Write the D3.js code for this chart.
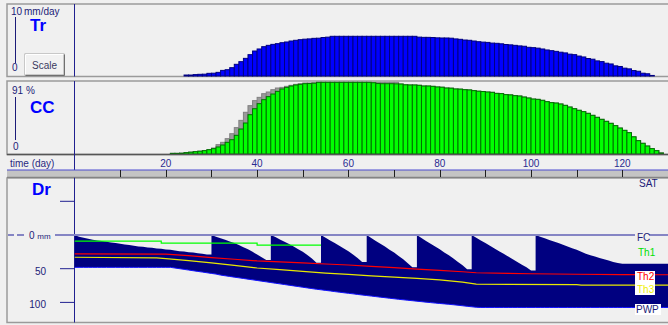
<!DOCTYPE html>
<html>
<head>
<meta charset="utf-8">
<script src="https://cdn.jsdelivr.net/npm/d3@7"></script>
<style>
  body { margin: 0; background: #f0f0f0; }
  svg { display: block; }
  text { font-family: "Liberation Sans", Arial, sans-serif; }
</style>
</head>
<body>
<svg id="chart" width="668" height="325"></svg>
<script>
// ---- data ----
const dayTicks = [20, 40, 60, 80, 100, 120];

// transpiration, mm/day, first bar on day 24
const trStart = 24;
const trValues = [0.14, 0.14, 0.2, 0.24, 0.26, 0.38, 0.4, 0.52, 0.8, 0.9,
  1.19, 1.67, 2.05, 2.52, 3.05, 3.57, 3.86, 4.19, 4.38, 4.52,
  4.62, 4.76, 4.86, 5.0, 5.1, 5.19, 5.26, 5.3, 5.38, 5.4,
  5.5, 5.55, 5.67, 5.67, 5.67, 5.67, 5.67, 5.67, 5.67, 5.67,
  5.67, 5.67, 5.67, 5.67, 5.67, 5.67, 5.67, 5.67, 5.67, 5.67,
  5.67, 5.55, 5.52, 5.52, 5.5, 5.45, 5.43, 5.43, 5.4, 5.3,
  5.24, 5.14, 5.1, 5.0, 4.9, 4.84, 4.8, 4.7, 4.67, 4.6,
  4.5, 4.45, 4.38, 4.3, 4.25, 4.1, 4.05, 3.98, 3.86, 3.72,
  3.62, 3.52, 3.4, 3.3, 3.12, 3.05, 2.85, 2.72, 2.5, 2.4,
  2.16, 2.06, 1.83, 1.72, 1.45, 1.36, 1.12, 1.02, 0.78, 0.68,
  0.4, 0.32, 0.08];

// canopy cover %, first bar on day 21
const ccStart = 21;
const ccValues = [0.8, 0.8, 1.0, 1.7, 2.3, 2.9, 3.5, 4.2, 5.4, 6.7,
  8.8, 11.3, 14.6, 17.9, 23.4, 31.3, 38.8, 49.2, 56.7, 63,
  68, 71.8, 75.1, 78.4, 81.4, 83.4, 85.1, 86.4, 87.2, 88,
  88.2, 88.6, 89.7, 89.7, 89.7, 89.7, 89.7, 89.7, 89.7, 89.7,
  89.7, 89.7, 89.7, 89.7, 89.2, 88.2, 88, 88, 88, 87.8,
  87.6, 86.6, 86.4, 86.4, 86, 85.1, 85.1, 84.7, 83.9, 83.6,
  82.6, 82.4, 81.4, 81.2, 80.5, 80.2, 79.3, 78.6, 78.2, 77.6,
  77.2, 75.9, 75.6, 74.3, 74, 73, 72.6, 71.3, 70.1, 68.8,
  68.4, 67.2, 65.5, 64.3, 63.8, 62.6, 60.9, 58.8, 56.7, 54.7,
  53, 50.9, 48.4, 45.9, 43.4, 40.9, 38.4, 35.5, 32.5, 29.6,
  26.7, 21.5, 16.7, 13.4, 10, 6.7, 4.2, 1.3];
// potential canopy cover (grey bars behind), same days
const ccPotValues = [0.8, 0.8, 1.0, 1.7, 2.3, 2.9, 3.5, 4.2, 5.4, 7.5,
  11.7, 14.6, 19.2, 25.4, 33, 42.1, 52.2, 60.5, 66.8, 70.9,
  75.5, 77.6, 80.5, 82.6, 83.4, 84.7, 86, 87.2, 88, 88.9,
  88.9, 89.2, 89.7, 89.7, 89.7, 89.7, 89.7, 89.7, 89.7, 89.7,
  89.7, 89.7, 89.7, 89.7, 89.7, 89.7, 89.7, 89.7, 89.7, 89.7,
  87.6, 86.6, 86.4, 86.4, 86, 85.1, 85.1, 84.7, 83.9, 83.6,
  82.6, 82.4, 81.4, 81.2, 80.5, 80.2, 79.3, 78.6, 78.2, 77.6,
  77.2, 75.9, 75.6, 74.3, 74, 73, 72.6, 71.3, 70.1, 68.8,
  68.4, 67.2, 65.5, 64.3, 63.8, 62.6, 60.9, 58.8, 56.7, 54.7,
  53, 50.9, 48.4, 45.9, 43.4, 40.9, 38.4, 35.5, 32.5, 29.6,
  26.7, 21.5, 16.7, 13.4, 10, 6.7, 4.2, 1.3];

// root zone depletion, mm below FC, days 0..130
const drValues = [0, 2.5, 4, 5.5, 7, 8, 9, 10, 11, 12,
  13, 14, 15, 16, 17, 17.5, 18.5, 19, 20, 20.5,
  21.5, 22, 23, 24, 24.5, 25.5, 26, 27, 28, 29,
  0, 2.5, 5, 7, 9.5, 12, 15, 18, 21, 25, 29, 33, 37,
  0, 3, 6.5, 10, 13.5, 17, 21, 25, 29.5, 35, 41,
  0, 4, 8, 12, 16, 20, 24, 29, 34, 40,
  0, 4.5, 9, 13, 17, 22, 26, 31, 36, 42, 48,
  0, 4.5, 9, 13, 17, 21, 26, 30, 35, 40, 45, 51,
  0, 4, 8, 12, 16, 20, 24, 28, 32, 36, 40, 44, 48, 52.5,
  0, 2.5, 5, 7.5, 9.5, 12, 14.5, 17, 19.5, 22, 25, 28, 30, 32, 34,
  36, 38, 40, 41.5, 42.5, 42.5, 42.5, 42.5, 42.5, 42.5, 42.5, 42.5, 42.5, 42.5, 42.5];
// total available water (depth of PWP below FC), days 0..130
const tawValues = [48, 48, 48, 48, 48, 48, 48, 48, 48, 48, 48,
  48, 48, 48, 48, 48, 48, 48, 48, 48, 48, 48,
  49, 50, 51, 52, 53, 54, 55, 56, 57, 58,
  59.5, 60.5, 61.5, 62.5, 63.5, 64.5, 65.5, 66.5, 67.5, 68.5, 69.5,
  70.5, 71.5, 72.5, 73.5, 74.5, 75.5, 76.5, 77.5, 78.5, 79.5, 80.5,
  81.3, 82.2, 83, 84, 84.8, 85.7, 86.5, 87.3, 88.2, 89,
  89.8, 90.6, 91.4, 92.2, 93, 93.8, 94.6, 95.4, 96.1, 96.8,
  97.5, 98.2, 98.9, 99.6, 100.3, 101, 101.6, 102.2, 102.8, 103.5,
  104.2, 105, 105.8, 106.5, 107.2,
  107.5, 107.5, 107.5, 107.5, 107.5, 107.5, 107.5, 107.5, 107.5, 107.5,
  107.5, 107.5, 107.5, 107.5, 107.5, 107.5, 107.5, 107.5, 107.5, 107.5,
  107.5, 107.5, 107.5, 107.5, 107.5, 107.5, 107.5, 107.5, 107.5, 107.5,
  107.5, 107.5, 107.5, 107.5, 107.5, 107.5, 107.5, 107.5, 107.5, 107.5,
  107.5, 107.5];

// thresholds (day, mm)
const th1Days = [0, 19, 40, 54];
const th1Mm = [9, 12, 15, 15];
const th2Days = [0, 20, 25, 30, 35, 40, 45, 50, 55, 60, 65, 70, 75, 80, 85, 88, 95, 100, 110, 120, 130];
const th2Mm = [28, 28.5, 30.5, 33.5, 36, 38.5, 40, 41.5, 43, 44.5, 46.5, 48.5, 50.5, 52.5, 54.5, 56, 57, 57.5, 58.2, 58.8, 59];
const th3Days = [0, 18, 20, 25, 30, 35, 40, 45, 50, 55, 60, 65, 70, 75, 80, 85, 88, 110, 111, 130];
const th3Mm = [33, 34, 35, 38, 41.5, 45, 49, 51.5, 54, 56.5, 58.5, 60.5, 62.5, 64.5, 66.5, 70, 73, 73.5, 74.5, 74.5];

// ---- drawing ----
const svg = d3.select('#chart');
const navy = '#1c1c78';

svg.append('rect').attr('width', 668).attr('height', 325).attr('fill', '#f0f0f0');

const x = d3.scaleLinear().domain([0, 130]).range([74.5, 668]);
const yTr = d3.scaleLinear().domain([0, 10]).range([76, 6]);
const yCC = d3.scaleLinear().domain([0, 91]).range([154, 81.3]);
const yDr = d3.scaleLinear().domain([-50, 100]).range([201.3, 302.4]);
const dayW = x(1) - x(0);

// panel frames
function frame(y0, y1) {
  svg.append('rect')
    .attr('x', 7).attr('y', y0).attr('width', 700).attr('height', y1 - y0)
    .attr('fill', 'none').attr('stroke', '#9a9a9a').attr('stroke-width', 1.5);
}
frame(4, 76.5);
frame(81, 154.5);
frame(178, 322.5);

// bars
function drawBars(startDay, values, y, fill, stroke) {
  svg.append('g').selectAll('rect')
    .data(values)
    .join('rect')
      .attr('x', (v, i) => x(startDay + i))
      .attr('width', dayW)
      .attr('y', v => y(v))
      .attr('height', v => y(0) - y(v))
      .attr('fill', fill)
      .attr('stroke', stroke)
      .attr('stroke-width', 1);
}
drawBars(trStart, trValues, yTr, '#0000ff', '#000080');
drawBars(ccStart, ccPotValues, yCC, '#9a9a9a', '#808080');
drawBars(ccStart, ccValues, yCC, '#00ff00', '#007000');

// CC bottom line
svg.append('line').attr('x1', 7).attr('x2', 668).attr('y1', 154.5).attr('y2', 154.5)
  .attr('stroke', '#555').attr('stroke-width', 1.5);

// left axis lines of the panels
[[4, 76.5], [81, 177], [177, 322.5]].forEach(([a, b]) => {
  svg.append('line').attr('x1', 74.5).attr('x2', 74.5).attr('y1', a).attr('y2', b)
    .attr('stroke', '#202090').attr('stroke-width', 1);
});

// Tr legend area
svg.append('line').attr('x1', 15.5).attr('x2', 15.5).attr('y1', 17).attr('y2', 63).attr('stroke', navy);
svg.append('text').attr('x', 11).attr('y', 15).attr('font-size', 10).attr('fill', navy).text('10');
svg.append('text').attr('x', 24).attr('y', 15).attr('font-size', 10).attr('fill', navy).text('mm/day');
svg.append('text').attr('x', 30).attr('y', 31).attr('font-size', 17).attr('font-weight', 'bold').attr('fill', '#0000ff').text('Tr');
svg.append('text').attr('x', 12).attr('y', 71).attr('font-size', 10).attr('fill', navy).text('0');

// Scale button
const btn = svg.append('g');
btn.append('rect').attr('x', 25).attr('y', 54).attr('width', 39).attr('height', 21)
  .attr('fill', '#f2f2f2').attr('stroke', '#a0a0a0');
btn.append('path').attr('d', 'M25.5,74.5 V54.5 H63.5').attr('fill', 'none').attr('stroke', '#ffffff');
btn.append('path').attr('d', 'M64.5,54.5 V75.5 H25.5').attr('fill', 'none').attr('stroke', '#707070');
btn.append('text').attr('x', 44.5).attr('y', 68.5).attr('text-anchor', 'middle')
  .attr('font-size', 10).attr('fill', '#3a3a60').text('Scale');

// CC legend area
svg.append('line').attr('x1', 15.5).attr('x2', 15.5).attr('y1', 97).attr('y2', 140).attr('stroke', navy);
svg.append('text').attr('x', 12).attr('y', 94).attr('font-size', 10).attr('fill', navy).text('91 %');
svg.append('text').attr('x', 30).attr('y', 113).attr('font-size', 17).attr('font-weight', 'bold').attr('fill', '#0000ff').text('CC');
svg.append('text').attr('x', 13).attr('y', 150).attr('font-size', 10).attr('fill', navy).text('0');

// time axis band
svg.append('rect').attr('x', 7).attr('y', 170).attr('width', 661).attr('height', 7).attr('fill', '#c4c4c4');
svg.append('line').attr('x1', 7).attr('x2', 668).attr('y1', 170).attr('y2', 170).attr('stroke', '#4a4ad0').attr('stroke-width', 1.2);
svg.append('line').attr('x1', 7).attr('x2', 668).attr('y1', 177.3).attr('y2', 177.3).attr('stroke', '#7a7a7a').attr('stroke-width', 1);
svg.append('g').selectAll('line')
  .data(d3.range(10, 131, 10))
  .join('line')
    .attr('x1', d => Math.round(x(d)) + 0.5).attr('x2', d => Math.round(x(d)) + 0.5)
    .attr('y1', 170).attr('y2', 177)
    .attr('stroke', '#202020');
svg.append('g').selectAll('text')
  .data(dayTicks)
  .join('text')
    .attr('x', d => x(d)).attr('y', 167)
    .attr('text-anchor', 'middle').attr('font-size', 10).attr('fill', '#2a2a90')
    .text(d => d);
svg.append('text').attr('x', 10).attr('y', 167).attr('font-size', 10).attr('fill', '#2a2a80').text('time (day)');

// Dr panel
svg.append('defs').append('clipPath').attr('id', 'drClip')
  .append('rect').attr('x', 74.5).attr('y', 178).attr('width', 600).attr('height', 144);
const drG = svg.append('g').attr('clip-path', 'url(#drClip)');

// build area points, inserting a vertical jump on irrigation days
const pts = [];
drValues.forEach((v, i) => {
  if (i > 0 && v < drValues[i - 1] - 10) pts.push({ day: i, dr: drValues[i - 1], taw: tawValues[i] });
  pts.push({ day: i, dr: v, taw: tawValues[i] });
});
const area = d3.area()
  .x(p => x(p.day))
  .y0(p => yDr(p.taw))
  .y1(p => yDr(p.dr));
drG.append('path').datum(pts).attr('d', area).attr('fill', '#000080');
drG.append('path').datum(tawValues)
  .attr('d', d3.line().x((v, i) => x(i)).y(v => yDr(v)))
  .attr('fill', 'none').attr('stroke', '#1010ff').attr('stroke-width', 1);

// FC line
svg.append('line').attr('x1', 55).attr('x2', 668).attr('y1', yDr(0)).attr('y2', yDr(0))
  .attr('stroke', '#8585c4').attr('stroke-width', 2);
svg.append('line').attr('x1', 8).attr('x2', 14).attr('y1', yDr(0)).attr('y2', yDr(0))
  .attr('stroke', '#8585c4').attr('stroke-width', 2);
svg.append('line').attr('x1', 17).attr('x2', 24).attr('y1', yDr(0)).attr('y2', yDr(0))
  .attr('stroke', '#8585c4').attr('stroke-width', 2);

// threshold lines
function thLine(days, mm, color, curve) {
  drG.append('path')
    .datum(days.map((d, i) => [d, mm[i]]))
    .attr('d', d3.line().x(p => x(p[0])).y(p => yDr(p[1])).curve(curve))
    .attr('fill', 'none').attr('stroke', color).attr('stroke-width', 1.2);
}
thLine(th1Days, th1Mm, '#00ff00', d3.curveStepAfter);
thLine(th2Days, th2Mm, '#ff0000', d3.curveLinear);
thLine(th3Days, th3Mm, '#e8e800', d3.curveLinear);

// Dr axis
svg.append('text').attr('x', 32).attr('y', 195).attr('font-size', 17).attr('font-weight', 'bold').attr('fill', '#0000ff').text('Dr');
svg.append('g').selectAll('line')
  .data([-50, 50, 100])
  .join('line')
    .attr('x1', 60).attr('x2', 74.5)
    .attr('y1', d => yDr(d)).attr('y2', d => yDr(d))
    .attr('stroke', '#202090');
const zeroLbl = svg.append('text').attr('x', 29).attr('y', yDr(0) + 4).attr('fill', navy).attr('font-size', 10);
zeroLbl.append('tspan').text('0 ');
zeroLbl.append('tspan').attr('font-size', 8).text('mm');
svg.append('g').selectAll('text')
  .data([50, 100])
  .join('text')
    .attr('x', 46).attr('y', d => yDr(d) + 6)
    .attr('text-anchor', 'end').attr('font-size', 10).attr('fill', navy)
    .text(d => d);

// right-hand labels
svg.append('text').attr('x', 639).attr('y', 187).attr('font-size', 10).attr('fill', navy).text('SAT');
svg.append('rect').attr('x', 635).attr('y', 230).attr('width', 14).attr('height', 12).attr('fill', '#f0f0f0');
svg.append('text').attr('x', 637).attr('y', 241).attr('font-size', 10).attr('fill', navy).text('FC');
svg.append('text').attr('x', 638).attr('y', 256).attr('font-size', 10).attr('fill', '#00e000').text('Th1');
svg.append('rect').attr('x', 635).attr('y', 271).attr('width', 20).attr('height', 24).attr('fill', '#ffffff');
svg.append('text').attr('x', 637).attr('y', 280).attr('font-size', 10).attr('fill', '#ff0000').text('Th2');
svg.append('text').attr('x', 637).attr('y', 293).attr('font-size', 10).attr('fill', '#f0f000').text('Th3');
svg.append('rect').attr('x', 635).attr('y', 304).attr('width', 26).attr('height', 11).attr('fill', '#ffffff');
svg.append('text').attr('x', 636).attr('y', 313).attr('font-size', 10).attr('fill', navy).text('PWP');
</script>
</body>
</html>
